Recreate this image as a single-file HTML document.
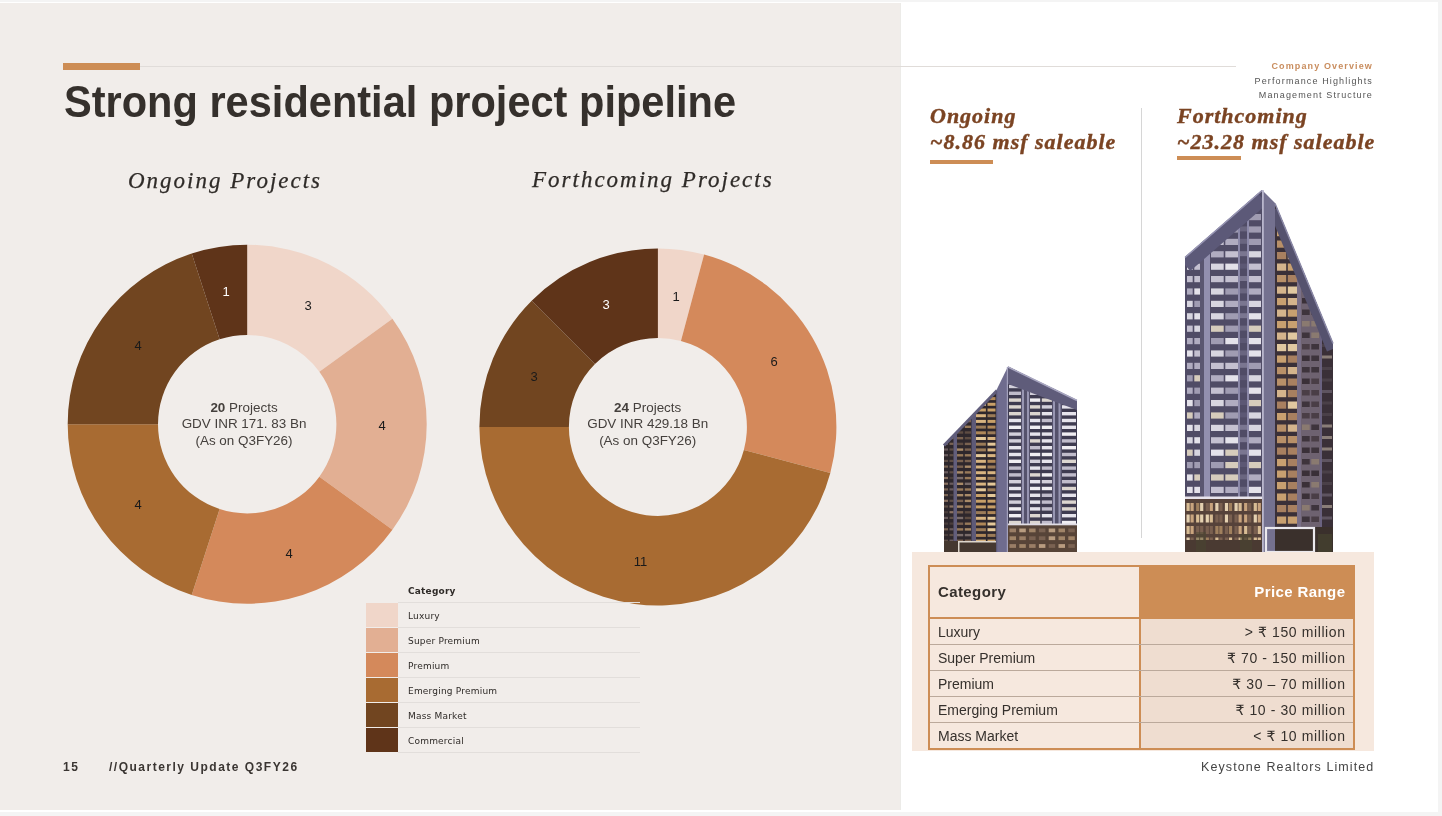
<!DOCTYPE html>
<html><head><meta charset="utf-8"><style>
:root{--c1:#f0d6c9;--c2:#e2af93;--c3:#d4895b;--c4:#a86b32;--c5:#714520;--c6:#5f3419;--or:#cd8d55;--brn:#7b4423}
*{margin:0;padding:0;box-sizing:border-box}
html,body{width:1442px;height:816px;overflow:hidden;background:#f4f4f4}
body{position:relative;font-family:"Liberation Sans",sans-serif}
.a{position:absolute;white-space:nowrap}
#slide{position:absolute;left:0;top:2px;width:1438px;height:810px;background:#fff}
#left{position:absolute;left:0;top:3px;width:901px;height:807px;background:#f1edea}
#hl{left:140px;top:66px;width:1096px;height:1px;background:#e0dcd9}
#bar{left:63px;top:63px;width:77px;height:7px;background:var(--or)}
#title{left:63.5px;top:76.5px;font:bold 44.6px/50px "Liberation Sans",sans-serif;color:#35302c;transform:scaleX(0.932);transform-origin:0 0}
.ct{font:italic 23px/26px "Liberation Serif",serif;color:#2f2b28;letter-spacing:2px;-webkit-text-stroke:0.25px #2f2b28}
.cc{font:13.45px/16.4px "Liberation Sans",sans-serif;color:#45403d;text-align:center}
.lbl{font:13px "Liberation Sans",sans-serif;fill:#1a1a1a}
.leg{font:9px/10px "DejaVu Sans",sans-serif;color:#2e2a27;letter-spacing:0.2px}
.nav{font:9px/14.2px "Liberation Sans",sans-serif;letter-spacing:1.13px;text-align:right;color:#555}
.hd{font:bold italic 22px/26.2px "Liberation Serif",serif;color:var(--brn);letter-spacing:1px;-webkit-text-stroke:0.4px var(--brn)}
.th{font:bold 15px/18px "Liberation Sans","DejaVu Sans",sans-serif;color:#35302c;letter-spacing:0.4px}
.td{font:14px/16px "Liberation Sans","DejaVu Sans",sans-serif;color:#35302c}
.ft{font:bold 12px "Liberation Sans",sans-serif;color:#3a3532;letter-spacing:1.5px}
</style></head><body>
<div id="slide"></div>
<div id="left"></div>
<div class="a" style="left:899.5px;top:3px;width:1.5px;height:807px;background:#ecebe8"></div>
<div class="a" id="hl"></div>
<div class="a" id="bar"></div>
<div class="a" id="title">Strong residential project pipeline</div>

<div class="a ct" style="left:128px;top:167.5px">Ongoing Projects</div>
<div class="a ct" style="left:532px;top:166.5px">Forthcoming Projects</div>

<svg class="a" style="left:0;top:0" width="900" height="816" viewBox="0 0 900 816">
<path d="M247.20,244.70A179.5,179.5 0 0 1 392.42,318.69L319.36,371.77A89.2,89.2 0 0 0 247.20,335.00Z" fill="var(--c1)"/>
<path d="M392.42,318.69A179.5,179.5 0 0 1 392.42,529.71L319.36,476.63A89.2,89.2 0 0 0 319.36,371.77Z" fill="var(--c2)"/>
<path d="M392.42,529.71A179.5,179.5 0 0 1 191.73,594.91L219.64,509.03A89.2,89.2 0 0 0 319.36,476.63Z" fill="var(--c3)"/>
<path d="M191.73,594.91A179.5,179.5 0 0 1 67.70,424.20L158.00,424.20A89.2,89.2 0 0 0 219.64,509.03Z" fill="var(--c4)"/>
<path d="M67.70,424.20A179.5,179.5 0 0 1 191.73,253.49L219.64,339.37A89.2,89.2 0 0 0 158.00,424.20Z" fill="var(--c5)"/>
<path d="M191.73,253.49A179.5,179.5 0 0 1 247.20,244.70L247.20,335.00A89.2,89.2 0 0 0 219.64,339.37Z" fill="var(--c6)"/>
<path d="M657.90,248.40A178.5,178.5 0 0 1 704.10,254.48L680.93,340.93A89,89 0 0 0 657.90,337.90Z" fill="var(--c1)"/>
<path d="M704.10,254.48A178.5,178.5 0 0 1 830.32,473.10L743.87,449.93A89,89 0 0 0 680.93,340.93Z" fill="var(--c3)"/>
<path d="M830.32,473.10A178.5,178.5 0 0 1 479.40,426.90L568.90,426.90A89,89 0 0 0 743.87,449.93Z" fill="var(--c4)"/>
<path d="M479.40,426.90A178.5,178.5 0 0 1 531.68,300.68L594.97,363.97A89,89 0 0 0 568.90,426.90Z" fill="var(--c5)"/>
<path d="M531.68,300.68A178.5,178.5 0 0 1 657.90,248.40L657.90,337.90A89,89 0 0 0 594.97,363.97Z" fill="var(--c6)"/>
<g class="lbl" text-anchor="middle">
<text x="308" y="310">3</text><text x="382" y="430">4</text><text x="289" y="558">4</text>
<text x="138" y="509">4</text><text x="138" y="350">4</text><text x="226" y="296" fill="#fff">1</text>
<text x="676" y="301">1</text><text x="774" y="366">6</text><text x="640.5" y="566">11</text>
<text x="534" y="381">3</text><text x="606" y="309" fill="#fff">3</text>
</g>
</svg>

<div class="a cc" style="left:144px;top:400px;width:200px"><b>20</b> Projects<br>GDV INR 171. 83 Bn<br>(As on Q3FY26)</div>
<div class="a cc" style="left:547.7px;top:400px;width:200px"><b>24</b> Projects<br>GDV INR 429.18 Bn<br>(As on Q3FY26)</div>

<!-- legend -->
<div class="a" id="legend" style="left:366px;top:577px;width:274px;height:177px">
<div class="a leg" style="left:42px;top:9px;font-weight:bold">Category</div>
<div class="a" style="left:0;top:26px;width:32px;height:24px;background:var(--c1)"></div>
<div class="a" style="left:32px;top:25px;width:242px;height:1px;background:#e2dedb"></div>
<div class="a leg" style="left:42px;top:34px">Luxury</div>
<div class="a" style="left:0;top:51px;width:32px;height:24px;background:var(--c2)"></div>
<div class="a" style="left:32px;top:50px;width:242px;height:1px;background:#e2dedb"></div>
<div class="a leg" style="left:42px;top:59px">Super Premium</div>
<div class="a" style="left:0;top:76px;width:32px;height:24px;background:var(--c3)"></div>
<div class="a" style="left:32px;top:75px;width:242px;height:1px;background:#e2dedb"></div>
<div class="a leg" style="left:42px;top:84px">Premium</div>
<div class="a" style="left:0;top:101px;width:32px;height:24px;background:var(--c4)"></div>
<div class="a" style="left:32px;top:100px;width:242px;height:1px;background:#e2dedb"></div>
<div class="a leg" style="left:42px;top:109px">Emerging Premium</div>
<div class="a" style="left:0;top:126px;width:32px;height:24px;background:var(--c5)"></div>
<div class="a" style="left:32px;top:125px;width:242px;height:1px;background:#e2dedb"></div>
<div class="a leg" style="left:42px;top:134px">Mass Market</div>
<div class="a" style="left:0;top:151px;width:32px;height:24px;background:var(--c6)"></div>
<div class="a" style="left:32px;top:150px;width:242px;height:1px;background:#e2dedb"></div>
<div class="a leg" style="left:42px;top:159px">Commercial</div>
<div class="a" style="left:32px;top:175px;width:242px;height:1px;background:#e2dedb"></div>
</div>

<div class="a ft" style="left:63px;top:760px">15</div>
<div class="a ft" style="left:109px;top:760px">//Quarterly Update Q3FY26</div>

<!-- right panel -->
<div class="a nav" style="right:69px;top:59.3px"><span style="color:#c98d5e;font-weight:bold">Company Overview</span><br>Performance Highlights<br>Management Structure</div>
<div class="a hd" style="left:930px;top:103px">Ongoing<br>~8.86 msf saleable</div>
<div class="a hd" style="left:1177px;top:103px">Forthcoming<br>~23.28 msf saleable</div>
<div class="a" style="left:930px;top:160px;width:63px;height:4px;background:var(--or)"></div>
<div class="a" style="left:1177px;top:156px;width:64px;height:4px;background:var(--or)"></div>
<div class="a" style="left:1141px;top:108px;width:1px;height:430px;background:#d6d6d6"></div>

<!--BLD-->
<svg class="a" style="left:0;top:0" width="1442" height="816" viewBox="0 0 1442 816">
<defs>
<clipPath id="b1l"><polygon points="944,445 997,390 997,552 944,552"/></clipPath>
<clipPath id="b1r"><polygon points="1008,366.5 1077,400 1077,552 1008,552"/></clipPath>
<clipPath id="b2l"><polygon points="1185,257 1262,190 1262,552 1185,552"/></clipPath>
<clipPath id="b2r"><polygon points="1275,203 1333,343 1333,552 1275,552"/></clipPath>
</defs>
<polygon points="944,445 997,390 997,552 944,552" fill="#2e272c" />
<g clip-path="url(#b1l)">
<rect x="944.0" y="380.0" width="4.0" height="2.2" fill="#8a7262"/>
<rect x="949.5" y="380.0" width="4.0" height="2.2" fill="#6a5c5e"/>
<rect x="944.0" y="385.7" width="4.0" height="2.2" fill="#8a7262"/>
<rect x="949.5" y="385.7" width="4.0" height="2.2" fill="#8a7262"/>
<rect x="944.0" y="391.4" width="4.0" height="2.2" fill="#6a5c5e"/>
<rect x="949.5" y="391.4" width="4.0" height="2.2" fill="#6a5c5e"/>
<rect x="944.0" y="397.1" width="4.0" height="2.2" fill="#7a6454"/>
<rect x="949.5" y="397.1" width="4.0" height="2.2" fill="#7a6454"/>
<rect x="944.0" y="402.8" width="4.0" height="2.2" fill="#6a5c5e"/>
<rect x="949.5" y="402.8" width="4.0" height="2.2" fill="#8a7262"/>
<rect x="944.0" y="408.5" width="4.0" height="2.2" fill="#6a5c5e"/>
<rect x="949.5" y="408.5" width="4.0" height="2.2" fill="#7a6454"/>
<rect x="944.0" y="414.2" width="4.0" height="2.2" fill="#5e4e46"/>
<rect x="949.5" y="414.2" width="4.0" height="2.2" fill="#8a7262"/>
<rect x="944.0" y="419.9" width="4.0" height="2.2" fill="#4a3e3c"/>
<rect x="949.5" y="419.9" width="4.0" height="2.2" fill="#7a6454"/>
<rect x="944.0" y="425.6" width="4.0" height="2.2" fill="#5e4e46"/>
<rect x="949.5" y="425.6" width="4.0" height="2.2" fill="#6a5c5e"/>
<rect x="944.0" y="431.3" width="4.0" height="2.2" fill="#5e4e46"/>
<rect x="949.5" y="431.3" width="4.0" height="2.2" fill="#6a5c5e"/>
<rect x="944.0" y="437.0" width="4.0" height="2.2" fill="#8a7262"/>
<rect x="949.5" y="437.0" width="4.0" height="2.2" fill="#8a7262"/>
<rect x="944.0" y="442.7" width="4.0" height="2.2" fill="#6a5c5e"/>
<rect x="949.5" y="442.7" width="4.0" height="2.2" fill="#7a6454"/>
<rect x="944.0" y="448.4" width="4.0" height="2.2" fill="#6a5c5e"/>
<rect x="949.5" y="448.4" width="4.0" height="2.2" fill="#5e4e46"/>
<rect x="944.0" y="454.1" width="4.0" height="2.2" fill="#6a5c5e"/>
<rect x="949.5" y="454.1" width="4.0" height="2.2" fill="#5e4e46"/>
<rect x="944.0" y="459.8" width="4.0" height="2.2" fill="#5e4e46"/>
<rect x="949.5" y="459.8" width="4.0" height="2.2" fill="#5e4e46"/>
<rect x="944.0" y="465.5" width="4.0" height="2.2" fill="#7a6454"/>
<rect x="949.5" y="465.5" width="4.0" height="2.2" fill="#7a6454"/>
<rect x="944.0" y="471.2" width="4.0" height="2.2" fill="#6a5c5e"/>
<rect x="949.5" y="471.2" width="4.0" height="2.2" fill="#5e4e46"/>
<rect x="944.0" y="476.9" width="4.0" height="2.2" fill="#8a7262"/>
<rect x="949.5" y="476.9" width="4.0" height="2.2" fill="#4a3e3c"/>
<rect x="944.0" y="482.6" width="4.0" height="2.2" fill="#8a7262"/>
<rect x="949.5" y="482.6" width="4.0" height="2.2" fill="#6a5c5e"/>
<rect x="944.0" y="488.3" width="4.0" height="2.2" fill="#7a6454"/>
<rect x="949.5" y="488.3" width="4.0" height="2.2" fill="#6a5c5e"/>
<rect x="944.0" y="494.0" width="4.0" height="2.2" fill="#7a6454"/>
<rect x="949.5" y="494.0" width="4.0" height="2.2" fill="#4a3e3c"/>
<rect x="944.0" y="499.7" width="4.0" height="2.2" fill="#8a7262"/>
<rect x="949.5" y="499.7" width="4.0" height="2.2" fill="#5e4e46"/>
<rect x="944.0" y="505.4" width="4.0" height="2.2" fill="#5e4e46"/>
<rect x="949.5" y="505.4" width="4.0" height="2.2" fill="#8a7262"/>
<rect x="944.0" y="511.1" width="4.0" height="2.2" fill="#4a3e3c"/>
<rect x="949.5" y="511.1" width="4.0" height="2.2" fill="#8a7262"/>
<rect x="944.0" y="516.8" width="4.0" height="2.2" fill="#6a5c5e"/>
<rect x="949.5" y="516.8" width="4.0" height="2.2" fill="#5e4e46"/>
<rect x="944.0" y="522.5" width="4.0" height="2.2" fill="#4a3e3c"/>
<rect x="949.5" y="522.5" width="4.0" height="2.2" fill="#4a3e3c"/>
<rect x="944.0" y="528.2" width="4.0" height="2.2" fill="#7a6454"/>
<rect x="949.5" y="528.2" width="4.0" height="2.2" fill="#6a5c5e"/>
<rect x="944.0" y="533.9" width="4.0" height="2.2" fill="#4a3e3c"/>
<rect x="949.5" y="533.9" width="4.0" height="2.2" fill="#5e4e46"/>
<rect x="944.0" y="539.6" width="4.0" height="2.2" fill="#5e4e46"/>
<rect x="949.5" y="539.6" width="4.0" height="2.2" fill="#6a5c5e"/>
<rect x="957.0" y="380.0" width="6.2" height="2.4" fill="#7a6250"/>
<rect x="964.8" y="380.0" width="6.2" height="2.4" fill="#a88a68"/>
<rect x="957.0" y="385.7" width="6.2" height="2.4" fill="#7a6250"/>
<rect x="964.8" y="385.7" width="6.2" height="2.4" fill="#5e4c42"/>
<rect x="957.0" y="391.4" width="6.2" height="2.4" fill="#a88a68"/>
<rect x="964.8" y="391.4" width="6.2" height="2.4" fill="#7a6250"/>
<rect x="957.0" y="397.1" width="6.2" height="2.4" fill="#7a6250"/>
<rect x="964.8" y="397.1" width="6.2" height="2.4" fill="#7a6250"/>
<rect x="957.0" y="402.8" width="6.2" height="2.4" fill="#987a5a"/>
<rect x="964.8" y="402.8" width="6.2" height="2.4" fill="#987a5a"/>
<rect x="957.0" y="408.5" width="6.2" height="2.4" fill="#7a6250"/>
<rect x="964.8" y="408.5" width="6.2" height="2.4" fill="#a88a68"/>
<rect x="957.0" y="414.2" width="6.2" height="2.4" fill="#a88a68"/>
<rect x="964.8" y="414.2" width="6.2" height="2.4" fill="#a88a68"/>
<rect x="957.0" y="419.9" width="6.2" height="2.4" fill="#a88a68"/>
<rect x="964.8" y="419.9" width="6.2" height="2.4" fill="#7a6250"/>
<rect x="957.0" y="425.6" width="6.2" height="2.4" fill="#7a6c6a"/>
<rect x="964.8" y="425.6" width="6.2" height="2.4" fill="#987a5a"/>
<rect x="957.0" y="431.3" width="6.2" height="2.4" fill="#5e4c42"/>
<rect x="964.8" y="431.3" width="6.2" height="2.4" fill="#5e4c42"/>
<rect x="957.0" y="437.0" width="6.2" height="2.4" fill="#7a6250"/>
<rect x="964.8" y="437.0" width="6.2" height="2.4" fill="#5e4c42"/>
<rect x="957.0" y="442.7" width="6.2" height="2.4" fill="#5e4c42"/>
<rect x="964.8" y="442.7" width="6.2" height="2.4" fill="#7a6250"/>
<rect x="957.0" y="448.4" width="6.2" height="2.4" fill="#a88a68"/>
<rect x="964.8" y="448.4" width="6.2" height="2.4" fill="#7a6250"/>
<rect x="957.0" y="454.1" width="6.2" height="2.4" fill="#987a5a"/>
<rect x="964.8" y="454.1" width="6.2" height="2.4" fill="#987a5a"/>
<rect x="957.0" y="459.8" width="6.2" height="2.4" fill="#7a6250"/>
<rect x="964.8" y="459.8" width="6.2" height="2.4" fill="#7a6250"/>
<rect x="957.0" y="465.5" width="6.2" height="2.4" fill="#7a6250"/>
<rect x="964.8" y="465.5" width="6.2" height="2.4" fill="#a88a68"/>
<rect x="957.0" y="471.2" width="6.2" height="2.4" fill="#a88a68"/>
<rect x="964.8" y="471.2" width="6.2" height="2.4" fill="#987a5a"/>
<rect x="957.0" y="476.9" width="6.2" height="2.4" fill="#7a6c6a"/>
<rect x="964.8" y="476.9" width="6.2" height="2.4" fill="#987a5a"/>
<rect x="957.0" y="482.6" width="6.2" height="2.4" fill="#a88a68"/>
<rect x="964.8" y="482.6" width="6.2" height="2.4" fill="#7a6c6a"/>
<rect x="957.0" y="488.3" width="6.2" height="2.4" fill="#987a5a"/>
<rect x="964.8" y="488.3" width="6.2" height="2.4" fill="#987a5a"/>
<rect x="957.0" y="494.0" width="6.2" height="2.4" fill="#a88a68"/>
<rect x="964.8" y="494.0" width="6.2" height="2.4" fill="#a88a68"/>
<rect x="957.0" y="499.7" width="6.2" height="2.4" fill="#7a6250"/>
<rect x="964.8" y="499.7" width="6.2" height="2.4" fill="#a88a68"/>
<rect x="957.0" y="505.4" width="6.2" height="2.4" fill="#a88a68"/>
<rect x="964.8" y="505.4" width="6.2" height="2.4" fill="#987a5a"/>
<rect x="957.0" y="511.1" width="6.2" height="2.4" fill="#7a6250"/>
<rect x="964.8" y="511.1" width="6.2" height="2.4" fill="#5e4c42"/>
<rect x="957.0" y="516.8" width="6.2" height="2.4" fill="#7a6c6a"/>
<rect x="964.8" y="516.8" width="6.2" height="2.4" fill="#5e4c42"/>
<rect x="957.0" y="522.5" width="6.2" height="2.4" fill="#7a6250"/>
<rect x="964.8" y="522.5" width="6.2" height="2.4" fill="#987a5a"/>
<rect x="957.0" y="528.2" width="6.2" height="2.4" fill="#987a5a"/>
<rect x="964.8" y="528.2" width="6.2" height="2.4" fill="#a88a68"/>
<rect x="957.0" y="533.9" width="6.2" height="2.4" fill="#7a6c6a"/>
<rect x="964.8" y="533.9" width="6.2" height="2.4" fill="#7a6c6a"/>
<rect x="957.0" y="539.6" width="6.2" height="2.4" fill="#7a6250"/>
<rect x="964.8" y="539.6" width="6.2" height="2.4" fill="#7a6250"/>
<rect x="976.0" y="380.0" width="9.9" height="3.0" fill="#d8b480"/>
<rect x="987.5" y="380.0" width="8.0" height="3.0" fill="#d8b480"/>
<rect x="976.0" y="385.7" width="9.9" height="3.0" fill="#e4c898"/>
<rect x="987.5" y="385.7" width="8.0" height="3.0" fill="#b08858"/>
<rect x="976.0" y="391.4" width="9.9" height="3.0" fill="#c8a068"/>
<rect x="987.5" y="391.4" width="8.0" height="3.0" fill="#9c7c58"/>
<rect x="976.0" y="397.1" width="9.9" height="3.0" fill="#b08858"/>
<rect x="987.5" y="397.1" width="8.0" height="3.0" fill="#b08858"/>
<rect x="976.0" y="402.8" width="9.9" height="3.0" fill="#e4c898"/>
<rect x="987.5" y="402.8" width="8.0" height="3.0" fill="#c8a068"/>
<rect x="976.0" y="408.5" width="9.9" height="3.0" fill="#c8a068"/>
<rect x="987.5" y="408.5" width="8.0" height="3.0" fill="#c8a068"/>
<rect x="976.0" y="414.2" width="9.9" height="3.0" fill="#d8b480"/>
<rect x="987.5" y="414.2" width="8.0" height="3.0" fill="#9c7c58"/>
<rect x="976.0" y="419.9" width="9.9" height="3.0" fill="#d8b480"/>
<rect x="987.5" y="419.9" width="8.0" height="3.0" fill="#c8a068"/>
<rect x="976.0" y="425.6" width="9.9" height="3.0" fill="#9c7c58"/>
<rect x="987.5" y="425.6" width="8.0" height="3.0" fill="#b08858"/>
<rect x="976.0" y="431.3" width="9.9" height="3.0" fill="#b08858"/>
<rect x="987.5" y="431.3" width="8.0" height="3.0" fill="#9c7c58"/>
<rect x="976.0" y="437.0" width="9.9" height="3.0" fill="#e4c898"/>
<rect x="987.5" y="437.0" width="8.0" height="3.0" fill="#d8b480"/>
<rect x="976.0" y="442.7" width="9.9" height="3.0" fill="#9c7c58"/>
<rect x="987.5" y="442.7" width="8.0" height="3.0" fill="#e4c898"/>
<rect x="976.0" y="448.4" width="9.9" height="3.0" fill="#9c7c58"/>
<rect x="987.5" y="448.4" width="8.0" height="3.0" fill="#d8b480"/>
<rect x="976.0" y="454.1" width="9.9" height="3.0" fill="#e4c898"/>
<rect x="987.5" y="454.1" width="8.0" height="3.0" fill="#d8b480"/>
<rect x="976.0" y="459.8" width="9.9" height="3.0" fill="#d8b480"/>
<rect x="987.5" y="459.8" width="8.0" height="3.0" fill="#b08858"/>
<rect x="976.0" y="465.5" width="9.9" height="3.0" fill="#d8b480"/>
<rect x="987.5" y="465.5" width="8.0" height="3.0" fill="#9c7c58"/>
<rect x="976.0" y="471.2" width="9.9" height="3.0" fill="#d8b480"/>
<rect x="987.5" y="471.2" width="8.0" height="3.0" fill="#d8b480"/>
<rect x="976.0" y="476.9" width="9.9" height="3.0" fill="#d8b480"/>
<rect x="987.5" y="476.9" width="8.0" height="3.0" fill="#9c7c58"/>
<rect x="976.0" y="482.6" width="9.9" height="3.0" fill="#d8b480"/>
<rect x="987.5" y="482.6" width="8.0" height="3.0" fill="#e4c898"/>
<rect x="976.0" y="488.3" width="9.9" height="3.0" fill="#e4c898"/>
<rect x="987.5" y="488.3" width="8.0" height="3.0" fill="#9c7c58"/>
<rect x="976.0" y="494.0" width="9.9" height="3.0" fill="#c8a068"/>
<rect x="987.5" y="494.0" width="8.0" height="3.0" fill="#e4c898"/>
<rect x="976.0" y="499.7" width="9.9" height="3.0" fill="#c8a068"/>
<rect x="987.5" y="499.7" width="8.0" height="3.0" fill="#c8a068"/>
<rect x="976.0" y="505.4" width="9.9" height="3.0" fill="#c8a068"/>
<rect x="987.5" y="505.4" width="8.0" height="3.0" fill="#c8a068"/>
<rect x="976.0" y="511.1" width="9.9" height="3.0" fill="#9c7c58"/>
<rect x="987.5" y="511.1" width="8.0" height="3.0" fill="#b08858"/>
<rect x="976.0" y="516.8" width="9.9" height="3.0" fill="#d8b480"/>
<rect x="987.5" y="516.8" width="8.0" height="3.0" fill="#e4c898"/>
<rect x="976.0" y="522.5" width="9.9" height="3.0" fill="#b08858"/>
<rect x="987.5" y="522.5" width="8.0" height="3.0" fill="#e4c898"/>
<rect x="976.0" y="528.2" width="9.9" height="3.0" fill="#9c7c58"/>
<rect x="987.5" y="528.2" width="8.0" height="3.0" fill="#e4c898"/>
<rect x="976.0" y="533.9" width="9.9" height="3.0" fill="#b08858"/>
<rect x="987.5" y="533.9" width="8.0" height="3.0" fill="#9c7c58"/>
<rect x="976.0" y="539.6" width="9.9" height="3.0" fill="#d8b480"/>
<rect x="987.5" y="539.6" width="8.0" height="3.0" fill="#c8a068"/>
<rect x="953.5" y="380.0" width="3.5" height="172.0" fill="#625e7c"/>
<rect x="971.5" y="380.0" width="4.5" height="172.0" fill="#5e5a78"/>
</g>
<polyline points="944,445.5 997,390.5" stroke="#615e7c" stroke-width="3" fill="none"/>
<polygon points="996,391 1008,366.5 1008,552 996,552" fill="#6f6c8e" />
<rect x="996.0" y="391.0" width="1.2" height="161.0" fill="#5a5775"/>
<rect x="1006.8" y="367.0" width="1.4" height="185.0" fill="#a3a1bc"/>
<polygon points="1008,366.5 1077,400 1077,552 1008,552" fill="#3e3b50" />
<g clip-path="url(#b1r)">
<rect x="1009.0" y="378.0" width="12.0" height="3.4" fill="#d2cfda"/>
<rect x="1009.0" y="384.8" width="12.0" height="3.4" fill="#d2cfda"/>
<rect x="1009.0" y="391.6" width="12.0" height="3.4" fill="#c0bccb"/>
<rect x="1009.0" y="398.4" width="12.0" height="3.4" fill="#dcd6d0"/>
<rect x="1009.0" y="405.2" width="12.0" height="3.4" fill="#dcd6d0"/>
<rect x="1009.0" y="412.0" width="12.0" height="3.4" fill="#dcd6d0"/>
<rect x="1009.0" y="418.8" width="12.0" height="3.4" fill="#e6e4ec"/>
<rect x="1009.0" y="425.6" width="12.0" height="3.4" fill="#f0eef2"/>
<rect x="1009.0" y="432.4" width="12.0" height="3.4" fill="#d2cfda"/>
<rect x="1009.0" y="439.2" width="12.0" height="3.4" fill="#d2cfda"/>
<rect x="1009.0" y="446.0" width="12.0" height="3.4" fill="#e6e4ec"/>
<rect x="1009.0" y="452.8" width="12.0" height="3.4" fill="#e6e4ec"/>
<rect x="1009.0" y="459.6" width="12.0" height="3.4" fill="#f0eef2"/>
<rect x="1009.0" y="466.4" width="12.0" height="3.4" fill="#c0bccb"/>
<rect x="1009.0" y="473.2" width="12.0" height="3.4" fill="#c0bccb"/>
<rect x="1009.0" y="480.0" width="12.0" height="3.4" fill="#d2cfda"/>
<rect x="1009.0" y="486.8" width="12.0" height="3.4" fill="#e6e4ec"/>
<rect x="1009.0" y="493.6" width="12.0" height="3.4" fill="#e6e4ec"/>
<rect x="1009.0" y="500.4" width="12.0" height="3.4" fill="#d2cfda"/>
<rect x="1009.0" y="507.2" width="12.0" height="3.4" fill="#f0eef2"/>
<rect x="1009.0" y="514.0" width="12.0" height="3.4" fill="#f0eef2"/>
<rect x="1009.0" y="520.8" width="12.0" height="3.4" fill="#dcd6d0"/>
<rect x="1030.0" y="378.0" width="10.2" height="3.4" fill="#dcd6d0"/>
<rect x="1041.8" y="378.0" width="10.2" height="3.4" fill="#d2cfda"/>
<rect x="1030.0" y="384.8" width="10.2" height="3.4" fill="#e6e4ec"/>
<rect x="1041.8" y="384.8" width="10.2" height="3.4" fill="#f0eef2"/>
<rect x="1030.0" y="391.6" width="10.2" height="3.4" fill="#d2cfda"/>
<rect x="1041.8" y="391.6" width="10.2" height="3.4" fill="#c0bccb"/>
<rect x="1030.0" y="398.4" width="10.2" height="3.4" fill="#f0eef2"/>
<rect x="1041.8" y="398.4" width="10.2" height="3.4" fill="#dcd6d0"/>
<rect x="1030.0" y="405.2" width="10.2" height="3.4" fill="#dcd6d0"/>
<rect x="1041.8" y="405.2" width="10.2" height="3.4" fill="#d2cfda"/>
<rect x="1030.0" y="412.0" width="10.2" height="3.4" fill="#dcd6d0"/>
<rect x="1041.8" y="412.0" width="10.2" height="3.4" fill="#e6e4ec"/>
<rect x="1030.0" y="418.8" width="10.2" height="3.4" fill="#e6e4ec"/>
<rect x="1041.8" y="418.8" width="10.2" height="3.4" fill="#c0bccb"/>
<rect x="1030.0" y="425.6" width="10.2" height="3.4" fill="#f0eef2"/>
<rect x="1041.8" y="425.6" width="10.2" height="3.4" fill="#f0eef2"/>
<rect x="1030.0" y="432.4" width="10.2" height="3.4" fill="#e6e4ec"/>
<rect x="1041.8" y="432.4" width="10.2" height="3.4" fill="#e6e4ec"/>
<rect x="1030.0" y="439.2" width="10.2" height="3.4" fill="#dcd6d0"/>
<rect x="1041.8" y="439.2" width="10.2" height="3.4" fill="#e6e4ec"/>
<rect x="1030.0" y="446.0" width="10.2" height="3.4" fill="#c0bccb"/>
<rect x="1041.8" y="446.0" width="10.2" height="3.4" fill="#e6e4ec"/>
<rect x="1030.0" y="452.8" width="10.2" height="3.4" fill="#f0eef2"/>
<rect x="1041.8" y="452.8" width="10.2" height="3.4" fill="#f0eef2"/>
<rect x="1030.0" y="459.6" width="10.2" height="3.4" fill="#d2cfda"/>
<rect x="1041.8" y="459.6" width="10.2" height="3.4" fill="#e6e4ec"/>
<rect x="1030.0" y="466.4" width="10.2" height="3.4" fill="#e6e4ec"/>
<rect x="1041.8" y="466.4" width="10.2" height="3.4" fill="#c0bccb"/>
<rect x="1030.0" y="473.2" width="10.2" height="3.4" fill="#dcd6d0"/>
<rect x="1041.8" y="473.2" width="10.2" height="3.4" fill="#f0eef2"/>
<rect x="1030.0" y="480.0" width="10.2" height="3.4" fill="#e6e4ec"/>
<rect x="1041.8" y="480.0" width="10.2" height="3.4" fill="#d2cfda"/>
<rect x="1030.0" y="486.8" width="10.2" height="3.4" fill="#f0eef2"/>
<rect x="1041.8" y="486.8" width="10.2" height="3.4" fill="#f0eef2"/>
<rect x="1030.0" y="493.6" width="10.2" height="3.4" fill="#e6e4ec"/>
<rect x="1041.8" y="493.6" width="10.2" height="3.4" fill="#c0bccb"/>
<rect x="1030.0" y="500.4" width="10.2" height="3.4" fill="#e6e4ec"/>
<rect x="1041.8" y="500.4" width="10.2" height="3.4" fill="#c0bccb"/>
<rect x="1030.0" y="507.2" width="10.2" height="3.4" fill="#e6e4ec"/>
<rect x="1041.8" y="507.2" width="10.2" height="3.4" fill="#c0bccb"/>
<rect x="1030.0" y="514.0" width="10.2" height="3.4" fill="#dcd6d0"/>
<rect x="1041.8" y="514.0" width="10.2" height="3.4" fill="#e6e4ec"/>
<rect x="1030.0" y="520.8" width="10.2" height="3.4" fill="#dcd6d0"/>
<rect x="1041.8" y="520.8" width="10.2" height="3.4" fill="#c0bccb"/>
<rect x="1062.0" y="378.0" width="14.0" height="3.4" fill="#c0bccb"/>
<rect x="1062.0" y="384.8" width="14.0" height="3.4" fill="#dcd6d0"/>
<rect x="1062.0" y="391.6" width="14.0" height="3.4" fill="#e6e4ec"/>
<rect x="1062.0" y="398.4" width="14.0" height="3.4" fill="#dcd6d0"/>
<rect x="1062.0" y="405.2" width="14.0" height="3.4" fill="#e6e4ec"/>
<rect x="1062.0" y="412.0" width="14.0" height="3.4" fill="#e6e4ec"/>
<rect x="1062.0" y="418.8" width="14.0" height="3.4" fill="#e6e4ec"/>
<rect x="1062.0" y="425.6" width="14.0" height="3.4" fill="#e6e4ec"/>
<rect x="1062.0" y="432.4" width="14.0" height="3.4" fill="#f0eef2"/>
<rect x="1062.0" y="439.2" width="14.0" height="3.4" fill="#c0bccb"/>
<rect x="1062.0" y="446.0" width="14.0" height="3.4" fill="#f0eef2"/>
<rect x="1062.0" y="452.8" width="14.0" height="3.4" fill="#c0bccb"/>
<rect x="1062.0" y="459.6" width="14.0" height="3.4" fill="#dcd6d0"/>
<rect x="1062.0" y="466.4" width="14.0" height="3.4" fill="#c0bccb"/>
<rect x="1062.0" y="473.2" width="14.0" height="3.4" fill="#c0bccb"/>
<rect x="1062.0" y="480.0" width="14.0" height="3.4" fill="#c0bccb"/>
<rect x="1062.0" y="486.8" width="14.0" height="3.4" fill="#dcd6d0"/>
<rect x="1062.0" y="493.6" width="14.0" height="3.4" fill="#e6e4ec"/>
<rect x="1062.0" y="500.4" width="14.0" height="3.4" fill="#dcd6d0"/>
<rect x="1062.0" y="507.2" width="14.0" height="3.4" fill="#dcd6d0"/>
<rect x="1062.0" y="514.0" width="14.0" height="3.4" fill="#e6e4ec"/>
<rect x="1062.0" y="520.8" width="14.0" height="3.4" fill="#f0eef2"/>
<rect x="1021.0" y="366.0" width="9.0" height="160.0" fill="#55526c"/>
<rect x="1022.0" y="366.0" width="2.0" height="160.0" fill="#9896b2"/>
<rect x="1027.0" y="366.0" width="2.0" height="160.0" fill="#9896b2"/>
<rect x="1052.0" y="366.0" width="10.0" height="160.0" fill="#55526c"/>
<rect x="1053.0" y="366.0" width="2.0" height="160.0" fill="#9896b2"/>
<rect x="1058.5" y="366.0" width="2.0" height="160.0" fill="#9896b2"/>
</g>
<polygon points="1008,366.5 1077,400 1077,410 1008,384" fill="#5f5c7a" clip-path="url(#b1r)"/>
<polyline points="1008,367 1077,400.5" stroke="#a8a6c0" stroke-width="1.5" fill="none"/>
<rect x="1008.0" y="525.0" width="69.0" height="27.0" fill="#574438"/>
<rect x="1009.5" y="528.5" width="6.5" height="3.8" fill="#9a7e66"/>
<rect x="1009.5" y="536.3" width="6.5" height="3.8" fill="#a08468"/>
<rect x="1009.5" y="544.1" width="6.5" height="3.8" fill="#9a7e66"/>
<rect x="1019.3" y="528.5" width="6.5" height="3.8" fill="#b89c80"/>
<rect x="1019.3" y="536.3" width="6.5" height="3.8" fill="#9a7e66"/>
<rect x="1019.3" y="544.1" width="6.5" height="3.8" fill="#a08468"/>
<rect x="1029.1" y="528.5" width="6.5" height="3.8" fill="#a08468"/>
<rect x="1029.1" y="536.3" width="6.5" height="3.8" fill="#7a6252"/>
<rect x="1029.1" y="544.1" width="6.5" height="3.8" fill="#9a7e66"/>
<rect x="1038.9" y="528.5" width="6.5" height="3.8" fill="#7a6252"/>
<rect x="1038.9" y="536.3" width="6.5" height="3.8" fill="#7a6252"/>
<rect x="1038.9" y="544.1" width="6.5" height="3.8" fill="#b89c80"/>
<rect x="1048.7" y="528.5" width="6.5" height="3.8" fill="#b89c80"/>
<rect x="1048.7" y="536.3" width="6.5" height="3.8" fill="#b89c80"/>
<rect x="1048.7" y="544.1" width="6.5" height="3.8" fill="#7a6252"/>
<rect x="1058.5" y="528.5" width="6.5" height="3.8" fill="#a08468"/>
<rect x="1058.5" y="536.3" width="6.5" height="3.8" fill="#a08468"/>
<rect x="1058.5" y="544.1" width="6.5" height="3.8" fill="#b89c80"/>
<rect x="1068.3" y="528.5" width="6.5" height="3.8" fill="#7a6252"/>
<rect x="1068.3" y="536.3" width="6.5" height="3.8" fill="#a08468"/>
<rect x="1068.3" y="544.1" width="6.5" height="3.8" fill="#7a6252"/>
<rect x="1008.0" y="523.5" width="69.0" height="1.8" fill="#e0dce4"/>
<rect x="944.0" y="541.0" width="52.0" height="11.0" fill="#453830"/>
<rect x="958.0" y="541.0" width="38.0" height="1.5" fill="#ddd6cc"/>
<rect x="958.0" y="541.0" width="1.5" height="11.0" fill="#ddd6cc"/>
<polygon points="1185,257 1262,190 1262,552 1185,552" fill="#504c66" />
<g clip-path="url(#b2l)">
<rect x="1187.0" y="214.0" width="5.7" height="6.2" fill="#c4c0d0"/>
<rect x="1194.3" y="214.0" width="5.7" height="6.2" fill="#a09cb2"/>
<rect x="1187.0" y="226.4" width="5.7" height="6.2" fill="#b0acc0"/>
<rect x="1194.3" y="226.4" width="5.7" height="6.2" fill="#c4c0d0"/>
<rect x="1187.0" y="238.8" width="5.7" height="6.2" fill="#c4c0d0"/>
<rect x="1194.3" y="238.8" width="5.7" height="6.2" fill="#b0acc0"/>
<rect x="1187.0" y="251.2" width="5.7" height="6.2" fill="#c4c0d0"/>
<rect x="1194.3" y="251.2" width="5.7" height="6.2" fill="#d6ccbc"/>
<rect x="1187.0" y="263.6" width="5.7" height="6.2" fill="#e4e2ea"/>
<rect x="1194.3" y="263.6" width="5.7" height="6.2" fill="#c4c0d0"/>
<rect x="1187.0" y="276.0" width="5.7" height="6.2" fill="#c4c0d0"/>
<rect x="1194.3" y="276.0" width="5.7" height="6.2" fill="#c4c0d0"/>
<rect x="1187.0" y="288.4" width="5.7" height="6.2" fill="#b0acc0"/>
<rect x="1194.3" y="288.4" width="5.7" height="6.2" fill="#e4e2ea"/>
<rect x="1187.0" y="300.8" width="5.7" height="6.2" fill="#d8d6e0"/>
<rect x="1194.3" y="300.8" width="5.7" height="6.2" fill="#a09cb2"/>
<rect x="1187.0" y="313.2" width="5.7" height="6.2" fill="#d8d6e0"/>
<rect x="1194.3" y="313.2" width="5.7" height="6.2" fill="#e4e2ea"/>
<rect x="1187.0" y="325.6" width="5.7" height="6.2" fill="#c4c0d0"/>
<rect x="1194.3" y="325.6" width="5.7" height="6.2" fill="#d8d6e0"/>
<rect x="1187.0" y="338.0" width="5.7" height="6.2" fill="#b0acc0"/>
<rect x="1194.3" y="338.0" width="5.7" height="6.2" fill="#b0acc0"/>
<rect x="1187.0" y="350.4" width="5.7" height="6.2" fill="#e4e2ea"/>
<rect x="1194.3" y="350.4" width="5.7" height="6.2" fill="#c4c0d0"/>
<rect x="1187.0" y="362.8" width="5.7" height="6.2" fill="#b0acc0"/>
<rect x="1194.3" y="362.8" width="5.7" height="6.2" fill="#b0acc0"/>
<rect x="1187.0" y="375.2" width="5.7" height="6.2" fill="#a09cb2"/>
<rect x="1194.3" y="375.2" width="5.7" height="6.2" fill="#d6ccbc"/>
<rect x="1187.0" y="387.6" width="5.7" height="6.2" fill="#b0acc0"/>
<rect x="1194.3" y="387.6" width="5.7" height="6.2" fill="#a09cb2"/>
<rect x="1187.0" y="400.0" width="5.7" height="6.2" fill="#e4e2ea"/>
<rect x="1194.3" y="400.0" width="5.7" height="6.2" fill="#a09cb2"/>
<rect x="1187.0" y="412.4" width="5.7" height="6.2" fill="#d6ccbc"/>
<rect x="1194.3" y="412.4" width="5.7" height="6.2" fill="#b0acc0"/>
<rect x="1187.0" y="424.8" width="5.7" height="6.2" fill="#e4e2ea"/>
<rect x="1194.3" y="424.8" width="5.7" height="6.2" fill="#d8d6e0"/>
<rect x="1187.0" y="437.2" width="5.7" height="6.2" fill="#d8d6e0"/>
<rect x="1194.3" y="437.2" width="5.7" height="6.2" fill="#e4e2ea"/>
<rect x="1187.0" y="449.6" width="5.7" height="6.2" fill="#d6ccbc"/>
<rect x="1194.3" y="449.6" width="5.7" height="6.2" fill="#d8d6e0"/>
<rect x="1187.0" y="462.0" width="5.7" height="6.2" fill="#a09cb2"/>
<rect x="1194.3" y="462.0" width="5.7" height="6.2" fill="#a09cb2"/>
<rect x="1187.0" y="474.4" width="5.7" height="6.2" fill="#e4e2ea"/>
<rect x="1194.3" y="474.4" width="5.7" height="6.2" fill="#d6ccbc"/>
<rect x="1187.0" y="486.8" width="5.7" height="6.2" fill="#e4e2ea"/>
<rect x="1194.3" y="486.8" width="5.7" height="6.2" fill="#e4e2ea"/>
<rect x="1211.0" y="214.0" width="12.7" height="6.2" fill="#a09cb2"/>
<rect x="1225.3" y="214.0" width="12.7" height="6.2" fill="#d6ccbc"/>
<rect x="1211.0" y="226.4" width="12.7" height="6.2" fill="#d8d6e0"/>
<rect x="1225.3" y="226.4" width="12.7" height="6.2" fill="#a09cb2"/>
<rect x="1211.0" y="238.8" width="12.7" height="6.2" fill="#c4c0d0"/>
<rect x="1225.3" y="238.8" width="12.7" height="6.2" fill="#b0acc0"/>
<rect x="1211.0" y="251.2" width="12.7" height="6.2" fill="#b0acc0"/>
<rect x="1225.3" y="251.2" width="12.7" height="6.2" fill="#c4c0d0"/>
<rect x="1211.0" y="263.6" width="12.7" height="6.2" fill="#d8d6e0"/>
<rect x="1225.3" y="263.6" width="12.7" height="6.2" fill="#e4e2ea"/>
<rect x="1211.0" y="276.0" width="12.7" height="6.2" fill="#c4c0d0"/>
<rect x="1225.3" y="276.0" width="12.7" height="6.2" fill="#c4c0d0"/>
<rect x="1211.0" y="288.4" width="12.7" height="6.2" fill="#d8d6e0"/>
<rect x="1225.3" y="288.4" width="12.7" height="6.2" fill="#a09cb2"/>
<rect x="1211.0" y="300.8" width="12.7" height="6.2" fill="#d8d6e0"/>
<rect x="1225.3" y="300.8" width="12.7" height="6.2" fill="#b0acc0"/>
<rect x="1211.0" y="313.2" width="12.7" height="6.2" fill="#d8d6e0"/>
<rect x="1225.3" y="313.2" width="12.7" height="6.2" fill="#a09cb2"/>
<rect x="1211.0" y="325.6" width="12.7" height="6.2" fill="#d6ccbc"/>
<rect x="1225.3" y="325.6" width="12.7" height="6.2" fill="#a09cb2"/>
<rect x="1211.0" y="338.0" width="12.7" height="6.2" fill="#a09cb2"/>
<rect x="1225.3" y="338.0" width="12.7" height="6.2" fill="#e4e2ea"/>
<rect x="1211.0" y="350.4" width="12.7" height="6.2" fill="#d8d6e0"/>
<rect x="1225.3" y="350.4" width="12.7" height="6.2" fill="#a09cb2"/>
<rect x="1211.0" y="362.8" width="12.7" height="6.2" fill="#c4c0d0"/>
<rect x="1225.3" y="362.8" width="12.7" height="6.2" fill="#c4c0d0"/>
<rect x="1211.0" y="375.2" width="12.7" height="6.2" fill="#b0acc0"/>
<rect x="1225.3" y="375.2" width="12.7" height="6.2" fill="#e4e2ea"/>
<rect x="1211.0" y="387.6" width="12.7" height="6.2" fill="#c4c0d0"/>
<rect x="1225.3" y="387.6" width="12.7" height="6.2" fill="#a09cb2"/>
<rect x="1211.0" y="400.0" width="12.7" height="6.2" fill="#d8d6e0"/>
<rect x="1225.3" y="400.0" width="12.7" height="6.2" fill="#b0acc0"/>
<rect x="1211.0" y="412.4" width="12.7" height="6.2" fill="#d6ccbc"/>
<rect x="1225.3" y="412.4" width="12.7" height="6.2" fill="#a09cb2"/>
<rect x="1211.0" y="424.8" width="12.7" height="6.2" fill="#d8d6e0"/>
<rect x="1225.3" y="424.8" width="12.7" height="6.2" fill="#c4c0d0"/>
<rect x="1211.0" y="437.2" width="12.7" height="6.2" fill="#c4c0d0"/>
<rect x="1225.3" y="437.2" width="12.7" height="6.2" fill="#e4e2ea"/>
<rect x="1211.0" y="449.6" width="12.7" height="6.2" fill="#e4e2ea"/>
<rect x="1225.3" y="449.6" width="12.7" height="6.2" fill="#d6ccbc"/>
<rect x="1211.0" y="462.0" width="12.7" height="6.2" fill="#a09cb2"/>
<rect x="1225.3" y="462.0" width="12.7" height="6.2" fill="#d6ccbc"/>
<rect x="1211.0" y="474.4" width="12.7" height="6.2" fill="#d6ccbc"/>
<rect x="1225.3" y="474.4" width="12.7" height="6.2" fill="#d6ccbc"/>
<rect x="1211.0" y="486.8" width="12.7" height="6.2" fill="#c4c0d0"/>
<rect x="1225.3" y="486.8" width="12.7" height="6.2" fill="#b0acc0"/>
<rect x="1240.0" y="214.0" width="7.0" height="5.0" fill="#5c5874"/>
<rect x="1240.0" y="226.4" width="7.0" height="5.0" fill="#6a6680"/>
<rect x="1240.0" y="238.8" width="7.0" height="5.0" fill="#6a6680"/>
<rect x="1240.0" y="251.2" width="7.0" height="5.0" fill="#7a7690"/>
<rect x="1240.0" y="263.6" width="7.0" height="5.0" fill="#5c5874"/>
<rect x="1240.0" y="276.0" width="7.0" height="5.0" fill="#7a7690"/>
<rect x="1240.0" y="288.4" width="7.0" height="5.0" fill="#6a6680"/>
<rect x="1240.0" y="300.8" width="7.0" height="5.0" fill="#7a7690"/>
<rect x="1240.0" y="313.2" width="7.0" height="5.0" fill="#7a7690"/>
<rect x="1240.0" y="325.6" width="7.0" height="5.0" fill="#6a6680"/>
<rect x="1240.0" y="338.0" width="7.0" height="5.0" fill="#5c5874"/>
<rect x="1240.0" y="350.4" width="7.0" height="5.0" fill="#6a6680"/>
<rect x="1240.0" y="362.8" width="7.0" height="5.0" fill="#7a7690"/>
<rect x="1240.0" y="375.2" width="7.0" height="5.0" fill="#5c5874"/>
<rect x="1240.0" y="387.6" width="7.0" height="5.0" fill="#5c5874"/>
<rect x="1240.0" y="400.0" width="7.0" height="5.0" fill="#5c5874"/>
<rect x="1240.0" y="412.4" width="7.0" height="5.0" fill="#5c5874"/>
<rect x="1240.0" y="424.8" width="7.0" height="5.0" fill="#7a7690"/>
<rect x="1240.0" y="437.2" width="7.0" height="5.0" fill="#7a7690"/>
<rect x="1240.0" y="449.6" width="7.0" height="5.0" fill="#7a7690"/>
<rect x="1240.0" y="462.0" width="7.0" height="5.0" fill="#5c5874"/>
<rect x="1240.0" y="474.4" width="7.0" height="5.0" fill="#6a6680"/>
<rect x="1240.0" y="486.8" width="7.0" height="5.0" fill="#6a6680"/>
<rect x="1249.0" y="214.0" width="12.0" height="6.2" fill="#a09cb2"/>
<rect x="1249.0" y="226.4" width="12.0" height="6.2" fill="#a09cb2"/>
<rect x="1249.0" y="238.8" width="12.0" height="6.2" fill="#a09cb2"/>
<rect x="1249.0" y="251.2" width="12.0" height="6.2" fill="#d8d6e0"/>
<rect x="1249.0" y="263.6" width="12.0" height="6.2" fill="#c4c0d0"/>
<rect x="1249.0" y="276.0" width="12.0" height="6.2" fill="#c4c0d0"/>
<rect x="1249.0" y="288.4" width="12.0" height="6.2" fill="#b0acc0"/>
<rect x="1249.0" y="300.8" width="12.0" height="6.2" fill="#d8d6e0"/>
<rect x="1249.0" y="313.2" width="12.0" height="6.2" fill="#e4e2ea"/>
<rect x="1249.0" y="325.6" width="12.0" height="6.2" fill="#d6ccbc"/>
<rect x="1249.0" y="338.0" width="12.0" height="6.2" fill="#e4e2ea"/>
<rect x="1249.0" y="350.4" width="12.0" height="6.2" fill="#e4e2ea"/>
<rect x="1249.0" y="362.8" width="12.0" height="6.2" fill="#a09cb2"/>
<rect x="1249.0" y="375.2" width="12.0" height="6.2" fill="#d8d6e0"/>
<rect x="1249.0" y="387.6" width="12.0" height="6.2" fill="#e4e2ea"/>
<rect x="1249.0" y="400.0" width="12.0" height="6.2" fill="#d6ccbc"/>
<rect x="1249.0" y="412.4" width="12.0" height="6.2" fill="#d8d6e0"/>
<rect x="1249.0" y="424.8" width="12.0" height="6.2" fill="#d8d6e0"/>
<rect x="1249.0" y="437.2" width="12.0" height="6.2" fill="#b0acc0"/>
<rect x="1249.0" y="449.6" width="12.0" height="6.2" fill="#e4e2ea"/>
<rect x="1249.0" y="462.0" width="12.0" height="6.2" fill="#d6ccbc"/>
<rect x="1249.0" y="474.4" width="12.0" height="6.2" fill="#b0acc0"/>
<rect x="1249.0" y="486.8" width="12.0" height="6.2" fill="#e4e2ea"/>
<rect x="1200.0" y="190.0" width="4.0" height="310.0" fill="#5a5670"/>
<rect x="1204.0" y="190.0" width="6.0" height="310.0" fill="#928fae"/>
<rect x="1238.0" y="190.0" width="2.0" height="310.0" fill="#8c89a9"/>
<rect x="1247.0" y="190.0" width="2.0" height="310.0" fill="#8c89a9"/>
</g>
<polyline points="1185,265 1262,198" stroke="#5c5978" stroke-width="16" fill="none" clip-path="url(#b2l)"/>
<polyline points="1185,257.5 1262,190.5" stroke="#9896b4" stroke-width="1.5" fill="none"/>
<rect x="1185.0" y="498.0" width="77.0" height="54.0" fill="#56423a"/>
<rect x="1185.0" y="496.5" width="77.0" height="2.5" fill="#e8e4ec"/>
<rect x="1186.5" y="503.0" width="3.2" height="8.0" fill="#d8bc94"/>
<rect x="1190.5" y="503.0" width="3.2" height="8.0" fill="#c9a47e"/>
<rect x="1186.5" y="514.5" width="3.2" height="8.0" fill="#e4d0b0"/>
<rect x="1190.5" y="514.5" width="3.2" height="8.0" fill="#c9a47e"/>
<rect x="1186.5" y="526.0" width="3.2" height="8.0" fill="#d8bc94"/>
<rect x="1190.5" y="526.0" width="3.2" height="8.0" fill="#c9a47e"/>
<rect x="1186.5" y="537.5" width="3.2" height="8.0" fill="#e4d0b0"/>
<rect x="1190.5" y="537.5" width="3.2" height="8.0" fill="#7a6050"/>
<rect x="1196.1" y="503.0" width="3.2" height="8.0" fill="#a0805e"/>
<rect x="1200.1" y="503.0" width="3.2" height="8.0" fill="#e4d0b0"/>
<rect x="1196.1" y="514.5" width="3.2" height="8.0" fill="#d8bc94"/>
<rect x="1200.1" y="514.5" width="3.2" height="8.0" fill="#e4d0b0"/>
<rect x="1196.1" y="526.0" width="3.2" height="8.0" fill="#7a6050"/>
<rect x="1200.1" y="526.0" width="3.2" height="8.0" fill="#7a6050"/>
<rect x="1196.1" y="537.5" width="3.2" height="8.0" fill="#d8bc94"/>
<rect x="1200.1" y="537.5" width="3.2" height="8.0" fill="#d8bc94"/>
<rect x="1205.7" y="503.0" width="3.2" height="8.0" fill="#7a6050"/>
<rect x="1209.7" y="503.0" width="3.2" height="8.0" fill="#c9a47e"/>
<rect x="1205.7" y="514.5" width="3.2" height="8.0" fill="#e4d0b0"/>
<rect x="1209.7" y="514.5" width="3.2" height="8.0" fill="#d8bc94"/>
<rect x="1205.7" y="526.0" width="3.2" height="8.0" fill="#7a6050"/>
<rect x="1209.7" y="526.0" width="3.2" height="8.0" fill="#7a6050"/>
<rect x="1205.7" y="537.5" width="3.2" height="8.0" fill="#a0805e"/>
<rect x="1209.7" y="537.5" width="3.2" height="8.0" fill="#7a6050"/>
<rect x="1215.3" y="503.0" width="3.2" height="8.0" fill="#e4d0b0"/>
<rect x="1219.3" y="503.0" width="3.2" height="8.0" fill="#7a6050"/>
<rect x="1215.3" y="514.5" width="3.2" height="8.0" fill="#7a6050"/>
<rect x="1219.3" y="514.5" width="3.2" height="8.0" fill="#7a6050"/>
<rect x="1215.3" y="526.0" width="3.2" height="8.0" fill="#a0805e"/>
<rect x="1219.3" y="526.0" width="3.2" height="8.0" fill="#a0805e"/>
<rect x="1215.3" y="537.5" width="3.2" height="8.0" fill="#d8bc94"/>
<rect x="1219.3" y="537.5" width="3.2" height="8.0" fill="#7a6050"/>
<rect x="1224.9" y="503.0" width="3.2" height="8.0" fill="#e4d0b0"/>
<rect x="1228.9" y="503.0" width="3.2" height="8.0" fill="#a0805e"/>
<rect x="1224.9" y="514.5" width="3.2" height="8.0" fill="#e4d0b0"/>
<rect x="1228.9" y="514.5" width="3.2" height="8.0" fill="#7a6050"/>
<rect x="1224.9" y="526.0" width="3.2" height="8.0" fill="#7a6050"/>
<rect x="1228.9" y="526.0" width="3.2" height="8.0" fill="#a0805e"/>
<rect x="1224.9" y="537.5" width="3.2" height="8.0" fill="#7a6050"/>
<rect x="1228.9" y="537.5" width="3.2" height="8.0" fill="#d8bc94"/>
<rect x="1234.5" y="503.0" width="3.2" height="8.0" fill="#e4d0b0"/>
<rect x="1238.5" y="503.0" width="3.2" height="8.0" fill="#d8bc94"/>
<rect x="1234.5" y="514.5" width="3.2" height="8.0" fill="#7a6050"/>
<rect x="1238.5" y="514.5" width="3.2" height="8.0" fill="#c9a47e"/>
<rect x="1234.5" y="526.0" width="3.2" height="8.0" fill="#7a6050"/>
<rect x="1238.5" y="526.0" width="3.2" height="8.0" fill="#c9a47e"/>
<rect x="1234.5" y="537.5" width="3.2" height="8.0" fill="#7a6050"/>
<rect x="1238.5" y="537.5" width="3.2" height="8.0" fill="#d8bc94"/>
<rect x="1244.1" y="503.0" width="3.2" height="8.0" fill="#c9a47e"/>
<rect x="1248.1" y="503.0" width="3.2" height="8.0" fill="#7a6050"/>
<rect x="1244.1" y="514.5" width="3.2" height="8.0" fill="#c9a47e"/>
<rect x="1248.1" y="514.5" width="3.2" height="8.0" fill="#7a6050"/>
<rect x="1244.1" y="526.0" width="3.2" height="8.0" fill="#d8bc94"/>
<rect x="1248.1" y="526.0" width="3.2" height="8.0" fill="#7a6050"/>
<rect x="1244.1" y="537.5" width="3.2" height="8.0" fill="#7a6050"/>
<rect x="1248.1" y="537.5" width="3.2" height="8.0" fill="#c9a47e"/>
<rect x="1253.7" y="503.0" width="3.2" height="8.0" fill="#d8bc94"/>
<rect x="1257.7" y="503.0" width="3.2" height="8.0" fill="#c9a47e"/>
<rect x="1253.7" y="514.5" width="3.2" height="8.0" fill="#e4d0b0"/>
<rect x="1257.7" y="514.5" width="3.2" height="8.0" fill="#c9a47e"/>
<rect x="1253.7" y="526.0" width="3.2" height="8.0" fill="#7a6050"/>
<rect x="1257.7" y="526.0" width="3.2" height="8.0" fill="#d8bc94"/>
<rect x="1253.7" y="537.5" width="3.2" height="8.0" fill="#d8bc94"/>
<rect x="1257.7" y="537.5" width="3.2" height="8.0" fill="#d8bc94"/>
<rect x="1185.0" y="540.0" width="77.0" height="12.0" fill="#4a3a32"/>
<rect x="1196.0" y="532.0" width="10.0" height="20.0" fill="#4a4a30" opacity="0.45"/>
<rect x="1240.0" y="534.0" width="12.0" height="18.0" fill="#4a4a30" opacity="0.45"/>
<polygon points="1262,190 1275,203 1275,552 1262,552" fill="#74718f" />
<rect x="1262.0" y="190.0" width="1.8" height="362.0" fill="#b8b6cc"/>
<polygon points="1275,203 1333,343 1333,552 1275,552" fill="#3a3038" />
<g clip-path="url(#b2r)">
<rect x="1277.0" y="206.0" width="9.2" height="7.2" fill="#e0c8a0"/>
<rect x="1287.8" y="206.0" width="9.2" height="7.2" fill="#c8a070"/>
<rect x="1277.0" y="217.5" width="9.2" height="7.2" fill="#b89068"/>
<rect x="1287.8" y="217.5" width="9.2" height="7.2" fill="#b89068"/>
<rect x="1277.0" y="229.0" width="9.2" height="7.2" fill="#c8a070"/>
<rect x="1287.8" y="229.0" width="9.2" height="7.2" fill="#e0c8a0"/>
<rect x="1277.0" y="240.5" width="9.2" height="7.2" fill="#b89068"/>
<rect x="1287.8" y="240.5" width="9.2" height="7.2" fill="#b89068"/>
<rect x="1277.0" y="252.0" width="9.2" height="7.2" fill="#a88060"/>
<rect x="1287.8" y="252.0" width="9.2" height="7.2" fill="#e0c8a0"/>
<rect x="1277.0" y="263.5" width="9.2" height="7.2" fill="#d4b48c"/>
<rect x="1287.8" y="263.5" width="9.2" height="7.2" fill="#c8a070"/>
<rect x="1277.0" y="275.0" width="9.2" height="7.2" fill="#b89068"/>
<rect x="1287.8" y="275.0" width="9.2" height="7.2" fill="#a88060"/>
<rect x="1277.0" y="286.5" width="9.2" height="7.2" fill="#d4b48c"/>
<rect x="1287.8" y="286.5" width="9.2" height="7.2" fill="#e0c8a0"/>
<rect x="1277.0" y="298.0" width="9.2" height="7.2" fill="#c8a070"/>
<rect x="1287.8" y="298.0" width="9.2" height="7.2" fill="#d4b48c"/>
<rect x="1277.0" y="309.5" width="9.2" height="7.2" fill="#d4b48c"/>
<rect x="1287.8" y="309.5" width="9.2" height="7.2" fill="#c8a070"/>
<rect x="1277.0" y="321.0" width="9.2" height="7.2" fill="#c8a070"/>
<rect x="1287.8" y="321.0" width="9.2" height="7.2" fill="#c8a070"/>
<rect x="1277.0" y="332.5" width="9.2" height="7.2" fill="#d4b48c"/>
<rect x="1287.8" y="332.5" width="9.2" height="7.2" fill="#e0c8a0"/>
<rect x="1277.0" y="344.0" width="9.2" height="7.2" fill="#e0c8a0"/>
<rect x="1287.8" y="344.0" width="9.2" height="7.2" fill="#e0c8a0"/>
<rect x="1277.0" y="355.5" width="9.2" height="7.2" fill="#c8a070"/>
<rect x="1287.8" y="355.5" width="9.2" height="7.2" fill="#a88060"/>
<rect x="1277.0" y="367.0" width="9.2" height="7.2" fill="#b89068"/>
<rect x="1287.8" y="367.0" width="9.2" height="7.2" fill="#d4b48c"/>
<rect x="1277.0" y="378.5" width="9.2" height="7.2" fill="#b89068"/>
<rect x="1287.8" y="378.5" width="9.2" height="7.2" fill="#a88060"/>
<rect x="1277.0" y="390.0" width="9.2" height="7.2" fill="#d4b48c"/>
<rect x="1287.8" y="390.0" width="9.2" height="7.2" fill="#a88060"/>
<rect x="1277.0" y="401.5" width="9.2" height="7.2" fill="#a88060"/>
<rect x="1287.8" y="401.5" width="9.2" height="7.2" fill="#e0c8a0"/>
<rect x="1277.0" y="413.0" width="9.2" height="7.2" fill="#c8a070"/>
<rect x="1287.8" y="413.0" width="9.2" height="7.2" fill="#a88060"/>
<rect x="1277.0" y="424.5" width="9.2" height="7.2" fill="#b89068"/>
<rect x="1287.8" y="424.5" width="9.2" height="7.2" fill="#d4b48c"/>
<rect x="1277.0" y="436.0" width="9.2" height="7.2" fill="#b89068"/>
<rect x="1287.8" y="436.0" width="9.2" height="7.2" fill="#b89068"/>
<rect x="1277.0" y="447.5" width="9.2" height="7.2" fill="#a88060"/>
<rect x="1287.8" y="447.5" width="9.2" height="7.2" fill="#a88060"/>
<rect x="1277.0" y="459.0" width="9.2" height="7.2" fill="#c8a070"/>
<rect x="1287.8" y="459.0" width="9.2" height="7.2" fill="#a88060"/>
<rect x="1277.0" y="470.5" width="9.2" height="7.2" fill="#c8a070"/>
<rect x="1287.8" y="470.5" width="9.2" height="7.2" fill="#a88060"/>
<rect x="1277.0" y="482.0" width="9.2" height="7.2" fill="#c8a070"/>
<rect x="1287.8" y="482.0" width="9.2" height="7.2" fill="#a88060"/>
<rect x="1277.0" y="493.5" width="9.2" height="7.2" fill="#c8a070"/>
<rect x="1287.8" y="493.5" width="9.2" height="7.2" fill="#a88060"/>
<rect x="1277.0" y="505.0" width="9.2" height="7.2" fill="#a88060"/>
<rect x="1287.8" y="505.0" width="9.2" height="7.2" fill="#a88060"/>
<rect x="1277.0" y="516.5" width="9.2" height="7.2" fill="#c8a070"/>
<rect x="1287.8" y="516.5" width="9.2" height="7.2" fill="#c8a070"/>
<rect x="1277.0" y="528.0" width="9.2" height="7.2" fill="#e0c8a0"/>
<rect x="1287.8" y="528.0" width="9.2" height="7.2" fill="#c8a070"/>
<rect x="1277.0" y="539.5" width="9.2" height="7.2" fill="#e0c8a0"/>
<rect x="1287.8" y="539.5" width="9.2" height="7.2" fill="#a88060"/>
<rect x="1301.0" y="200.0" width="19.0" height="352.0" fill="#6e6270"/>
<rect x="1302.0" y="206.0" width="7.7" height="5.5" fill="#8a7a70"/>
<rect x="1311.3" y="206.0" width="7.7" height="5.5" fill="#4a3e46"/>
<rect x="1302.0" y="217.5" width="7.7" height="5.5" fill="#4a3e46"/>
<rect x="1311.3" y="217.5" width="7.7" height="5.5" fill="#4a3e46"/>
<rect x="1302.0" y="229.0" width="7.7" height="5.5" fill="#3e343c"/>
<rect x="1311.3" y="229.0" width="7.7" height="5.5" fill="#4a3e46"/>
<rect x="1302.0" y="240.5" width="7.7" height="5.5" fill="#4a3e46"/>
<rect x="1311.3" y="240.5" width="7.7" height="5.5" fill="#4a3e46"/>
<rect x="1302.0" y="252.0" width="7.7" height="5.5" fill="#3e343c"/>
<rect x="1311.3" y="252.0" width="7.7" height="5.5" fill="#8a7a70"/>
<rect x="1302.0" y="263.5" width="7.7" height="5.5" fill="#3a3038"/>
<rect x="1311.3" y="263.5" width="7.7" height="5.5" fill="#3e343c"/>
<rect x="1302.0" y="275.0" width="7.7" height="5.5" fill="#3a3038"/>
<rect x="1311.3" y="275.0" width="7.7" height="5.5" fill="#3a3038"/>
<rect x="1302.0" y="286.5" width="7.7" height="5.5" fill="#4a3e46"/>
<rect x="1311.3" y="286.5" width="7.7" height="5.5" fill="#4a3e46"/>
<rect x="1302.0" y="298.0" width="7.7" height="5.5" fill="#3a3038"/>
<rect x="1311.3" y="298.0" width="7.7" height="5.5" fill="#3e343c"/>
<rect x="1302.0" y="309.5" width="7.7" height="5.5" fill="#3e343c"/>
<rect x="1311.3" y="309.5" width="7.7" height="5.5" fill="#4a3e46"/>
<rect x="1302.0" y="321.0" width="7.7" height="5.5" fill="#8a7a70"/>
<rect x="1311.3" y="321.0" width="7.7" height="5.5" fill="#8a7a70"/>
<rect x="1302.0" y="332.5" width="7.7" height="5.5" fill="#3e343c"/>
<rect x="1311.3" y="332.5" width="7.7" height="5.5" fill="#8a7a70"/>
<rect x="1302.0" y="344.0" width="7.7" height="5.5" fill="#4a3e46"/>
<rect x="1311.3" y="344.0" width="7.7" height="5.5" fill="#3e343c"/>
<rect x="1302.0" y="355.5" width="7.7" height="5.5" fill="#3a3038"/>
<rect x="1311.3" y="355.5" width="7.7" height="5.5" fill="#3e343c"/>
<rect x="1302.0" y="367.0" width="7.7" height="5.5" fill="#3e343c"/>
<rect x="1311.3" y="367.0" width="7.7" height="5.5" fill="#3e343c"/>
<rect x="1302.0" y="378.5" width="7.7" height="5.5" fill="#3a3038"/>
<rect x="1311.3" y="378.5" width="7.7" height="5.5" fill="#4a3e46"/>
<rect x="1302.0" y="390.0" width="7.7" height="5.5" fill="#4a3e46"/>
<rect x="1311.3" y="390.0" width="7.7" height="5.5" fill="#4a3e46"/>
<rect x="1302.0" y="401.5" width="7.7" height="5.5" fill="#3e343c"/>
<rect x="1311.3" y="401.5" width="7.7" height="5.5" fill="#4a3e46"/>
<rect x="1302.0" y="413.0" width="7.7" height="5.5" fill="#4a3e46"/>
<rect x="1311.3" y="413.0" width="7.7" height="5.5" fill="#4a3e46"/>
<rect x="1302.0" y="424.5" width="7.7" height="5.5" fill="#8a7a70"/>
<rect x="1311.3" y="424.5" width="7.7" height="5.5" fill="#3e343c"/>
<rect x="1302.0" y="436.0" width="7.7" height="5.5" fill="#3e343c"/>
<rect x="1311.3" y="436.0" width="7.7" height="5.5" fill="#4a3e46"/>
<rect x="1302.0" y="447.5" width="7.7" height="5.5" fill="#3a3038"/>
<rect x="1311.3" y="447.5" width="7.7" height="5.5" fill="#3e343c"/>
<rect x="1302.0" y="459.0" width="7.7" height="5.5" fill="#3e343c"/>
<rect x="1311.3" y="459.0" width="7.7" height="5.5" fill="#8a7a70"/>
<rect x="1302.0" y="470.5" width="7.7" height="5.5" fill="#3a3038"/>
<rect x="1311.3" y="470.5" width="7.7" height="5.5" fill="#3a3038"/>
<rect x="1302.0" y="482.0" width="7.7" height="5.5" fill="#3a3038"/>
<rect x="1311.3" y="482.0" width="7.7" height="5.5" fill="#8a7a70"/>
<rect x="1302.0" y="493.5" width="7.7" height="5.5" fill="#3a3038"/>
<rect x="1311.3" y="493.5" width="7.7" height="5.5" fill="#4a3e46"/>
<rect x="1302.0" y="505.0" width="7.7" height="5.5" fill="#8a7a70"/>
<rect x="1311.3" y="505.0" width="7.7" height="5.5" fill="#3e343c"/>
<rect x="1302.0" y="516.5" width="7.7" height="5.5" fill="#3e343c"/>
<rect x="1311.3" y="516.5" width="7.7" height="5.5" fill="#4a3e46"/>
<rect x="1302.0" y="528.0" width="7.7" height="5.5" fill="#4a3e46"/>
<rect x="1311.3" y="528.0" width="7.7" height="5.5" fill="#3a3038"/>
<rect x="1302.0" y="539.5" width="7.7" height="5.5" fill="#3a3038"/>
<rect x="1311.3" y="539.5" width="7.7" height="5.5" fill="#8a7a70"/>
<rect x="1322.0" y="206.0" width="10.0" height="3.0" fill="#4a4048"/>
<rect x="1322.0" y="217.5" width="10.0" height="3.0" fill="#8a7e78"/>
<rect x="1322.0" y="229.0" width="10.0" height="3.0" fill="#8a7e78"/>
<rect x="1322.0" y="240.5" width="10.0" height="3.0" fill="#5e5460"/>
<rect x="1322.0" y="252.0" width="10.0" height="3.0" fill="#4a4048"/>
<rect x="1322.0" y="263.5" width="10.0" height="3.0" fill="#5e5460"/>
<rect x="1322.0" y="275.0" width="10.0" height="3.0" fill="#5e5460"/>
<rect x="1322.0" y="286.5" width="10.0" height="3.0" fill="#4a4048"/>
<rect x="1322.0" y="298.0" width="10.0" height="3.0" fill="#5e5460"/>
<rect x="1322.0" y="309.5" width="10.0" height="3.0" fill="#8a7e78"/>
<rect x="1322.0" y="321.0" width="10.0" height="3.0" fill="#5e5460"/>
<rect x="1322.0" y="332.5" width="10.0" height="3.0" fill="#4a4048"/>
<rect x="1322.0" y="344.0" width="10.0" height="3.0" fill="#4a4048"/>
<rect x="1322.0" y="355.5" width="10.0" height="3.0" fill="#8a7e78"/>
<rect x="1322.0" y="367.0" width="10.0" height="3.0" fill="#4a4048"/>
<rect x="1322.0" y="378.5" width="10.0" height="3.0" fill="#4a4048"/>
<rect x="1322.0" y="390.0" width="10.0" height="3.0" fill="#5e5460"/>
<rect x="1322.0" y="401.5" width="10.0" height="3.0" fill="#4a4048"/>
<rect x="1322.0" y="413.0" width="10.0" height="3.0" fill="#4a4048"/>
<rect x="1322.0" y="424.5" width="10.0" height="3.0" fill="#8a7e78"/>
<rect x="1322.0" y="436.0" width="10.0" height="3.0" fill="#8a7e78"/>
<rect x="1322.0" y="447.5" width="10.0" height="3.0" fill="#8a7e78"/>
<rect x="1322.0" y="459.0" width="10.0" height="3.0" fill="#5e5460"/>
<rect x="1322.0" y="470.5" width="10.0" height="3.0" fill="#4a4048"/>
<rect x="1322.0" y="482.0" width="10.0" height="3.0" fill="#4a4048"/>
<rect x="1322.0" y="493.5" width="10.0" height="3.0" fill="#5e5460"/>
<rect x="1322.0" y="505.0" width="10.0" height="3.0" fill="#8a7e78"/>
<rect x="1322.0" y="516.5" width="10.0" height="3.0" fill="#5e5460"/>
<rect x="1322.0" y="528.0" width="10.0" height="3.0" fill="#8a7e78"/>
<rect x="1322.0" y="539.5" width="10.0" height="3.0" fill="#4a4048"/>
<rect x="1297.0" y="200.0" width="4.0" height="352.0" fill="#7a7088"/>
<rect x="1320.0" y="200.0" width="2.0" height="352.0" fill="#6a6280"/>
</g>
<polyline points="1275,209 1333,349" stroke="#55526e" stroke-width="13" fill="none" clip-path="url(#b2r)"/>
<polyline points="1275,203.5 1333,343.5" stroke="#8a88a6" stroke-width="1.5" fill="none"/>
<rect x="1275.0" y="527.0" width="58.0" height="25.0" fill="#3a302c"/>
<rect x="1266" y="528" width="48" height="24" fill="none" stroke="#ebe9ee" stroke-width="2.2"/>
<rect x="1318.0" y="534.0" width="14.0" height="18.0" fill="#4a4a30" opacity="0.5"/>

</svg>
<!--/BLD-->
<!-- table -->
<div class="a" style="left:912px;top:552px;width:462px;height:199px;background:#f6e8de"></div>
<div class="a" id="tbl" style="left:928px;top:565px;width:427px;height:185px;border:2px solid var(--or);background:#f6e8de">
<div class="a" style="left:210px;top:0;width:213px;height:51px;background:var(--or)"></div>
<div class="a" style="left:210px;top:51px;width:213px;height:130px;background:#efddd0"></div>
<div class="a" style="left:0;top:50px;width:423px;height:2px;background:var(--or)"></div>
<div class="a" style="left:209px;top:0;width:2px;height:181px;background:var(--or)"></div>
<div class="a" style="left:0;top:77px;width:423px;height:1px;background:#bba99b"></div>
<div class="a" style="left:0;top:103px;width:423px;height:1px;background:#bba99b"></div>
<div class="a" style="left:0;top:129px;width:423px;height:1px;background:#bba99b"></div>
<div class="a" style="left:0;top:155px;width:423px;height:1px;background:#bba99b"></div>
<div class="a th" style="left:8px;top:16px">Category</div>
<div class="a th" style="right:7.6px;top:16px;color:#fff">Price Range</div>
<div class="a td" style="left:8px;top:57px">Luxury</div>
<div class="a td" style="left:8px;top:83px">Super Premium</div>
<div class="a td" style="left:8px;top:109px">Premium</div>
<div class="a td" style="left:8px;top:135px">Emerging Premium</div>
<div class="a td" style="left:8px;top:161px">Mass Market</div>
<div class="a td" style="letter-spacing:0.6px;right:7.4px;top:57px">&gt; ₹ 150 million</div>
<div class="a td" style="letter-spacing:0.6px;right:7.4px;top:83px">₹ 70 - 150 million</div>
<div class="a td" style="letter-spacing:0.6px;right:7.4px;top:109px">₹ 30 – 70 million</div>
<div class="a td" style="letter-spacing:0.6px;right:7.4px;top:135px">₹ 10 - 30 million</div>
<div class="a td" style="letter-spacing:0.6px;right:7.4px;top:161px">&lt; ₹ 10 million</div>
</div>

<div class="a" style="left:1201px;top:760.2px;font:12.5px 'Liberation Sans',sans-serif;letter-spacing:1.1px;color:#444">Keystone Realtors Limited</div>
</body></html>
